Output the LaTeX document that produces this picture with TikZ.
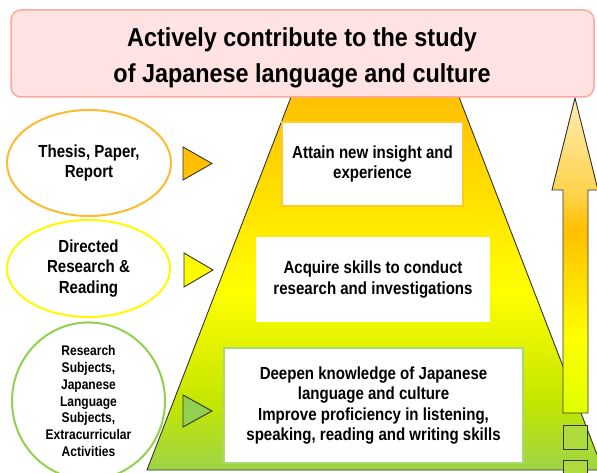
\documentclass[tikz,border=0pt]{standalone}
\usepackage{fontspec}
\setmainfont[FakeStretch=0.86]{Liberation Sans}
\newfontfamily\titlefam[FakeStretch=0.9]{Liberation Sans}
\usetikzlibrary{shapes.geometric}
\definecolor{torange}{RGB}{255,192,0}
\definecolor{tyellow}{RGB}{255,250,0}
\definecolor{tgreen}{RGB}{146,208,80}
\definecolor{titlefill}{RGB}{255,226,226}
\definecolor{titledraw}{RGB}{248,170,160}
\definecolor{edge}{RGB}{50,50,50}
\definecolor{ellorange}{RGB}{252,188,50}
\pgfdeclareverticalshading{pyrshade}{100bp}{%
  color(0bp)=(tgreen!90!yellow); color(25bp)=(tgreen!90!yellow);
  color(34bp)=(yellow!85!green!90!black); color(49bp)=(yellow);
  color(75bp)=(torange); color(100bp)=(torange)}
\pgfdeclareverticalshading{arrshade}{100bp}{%
  color(0bp)=(yellow!88!green); color(25bp)=(yellow!88!green);
  color(37bp)=(yellow); color(54bp)=(torange);
  color(60bp)=(torange!70!white); color(75bp)=(torange!30!white);
  color(100bp)=(torange!30!white)}
\tikzset{
  bodytext/.style={font=\bfseries\fontsize{17.5}{20.5}\selectfont, align=center},
  smalltext/.style={font=\bfseries\fontsize{14}{16.8}\selectfont, align=center},
  goalbox/.style={rectangle, fill=white, line width=2pt, inner sep=0pt, bodytext},
  ovalbox/.style={ellipse, fill=white, line width=2pt, inner sep=0pt},
  marker/.style={draw=edge, line width=0.9pt, line join=miter},
}
\begin{document}
\begin{tikzpicture}[x=1pt,y=-1pt]
\useasboundingbox (0,0) rectangle (597,473);
% pyramid
\coordinate (pTL) at (291,97);
\coordinate (pTR) at (459,97);
\coordinate (pBR) at (603,470);
\coordinate (pBL) at (147,470);
\shade[shading=pyrshade] (pTL) -- (pTR) -- (pBR) -- (pBL) -- cycle;
\draw[edge, line width=0.9pt] (pTL) -- (pBL) -- (pBR) -- (pTR);
% goal boxes
\node[goalbox, draw=torange!85!white, minimum width=181pt, minimum height=84pt] (g1) at (372.5,164) {Attain new insight and\\experience};
\node[goalbox, draw=white, minimum width=232pt, minimum height=83pt] (g2) at (373,279.5) {Acquire skills to conduct\\research and investigations};
\node[goalbox, draw=tgreen!80!white, minimum width=299pt, minimum height=115pt] (g3) at (373.5,405.5) {Deepen knowledge of Japanese\\language and culture\\Improve proficiency in listening,\\speaking, reading and writing skills};
% right arrow
\coordinate (aT) at (575,98);
\shade[shading=arrshade, draw=edge, line width=0.9pt] (aT) -- (598,190) -- (588,190) -- (588,413) -- (563,413) -- (563,190) -- (552,190) -- cycle;
\node[rectangle, draw=edge, fill=tgreen!75!yellow, line width=0.9pt, minimum width=24pt, minimum height=24pt, inner sep=0pt] (sq1) at (575,437) {};
\node[rectangle, draw=edge, fill=tgreen!75!yellow, line width=0.9pt, minimum width=24pt, minimum height=24pt, inner sep=0pt] (sq2) at (575,472) {};
% title
\node[rectangle, rounded corners=10pt, fill=titlefill, draw=titledraw, line width=1.5pt, minimum width=583pt, minimum height=87pt] (title) at (302.5,53.5) {};
\node[align=center, font=\titlefam\bfseries\fontsize{26}{35.5}\selectfont] (titletext) at (302,58) {Actively contribute to the study\\of Japanese language and culture};
% ellipses
\node[ovalbox, draw=ellorange, minimum width=164pt, minimum height=106pt, bodytext] (e1) at (89,163) {Thesis, Paper,\\Report};
\node[ovalbox, draw=tyellow, minimum width=163pt, minimum height=97pt, bodytext] (e2) at (88.5,268.5) {Directed\\Research \&\\Reading};
\node[ovalbox, draw=tgreen, minimum width=153pt, minimum height=156pt, smalltext] (e3) at (88.5,401) {Research\\Subjects,\\Japanese\\Language\\Subjects,\\Extracurricular\\Activities};
% markers
\filldraw[marker, fill=torange] (183,147) -- (212,163.5) -- (183,180) -- cycle;
\filldraw[marker, fill=tyellow] (184,253) -- (213,270) -- (184,287) -- cycle;
\filldraw[marker, fill=tgreen] (183,395) -- (212,411) -- (183,427) -- cycle;
\end{tikzpicture}
\end{document}
